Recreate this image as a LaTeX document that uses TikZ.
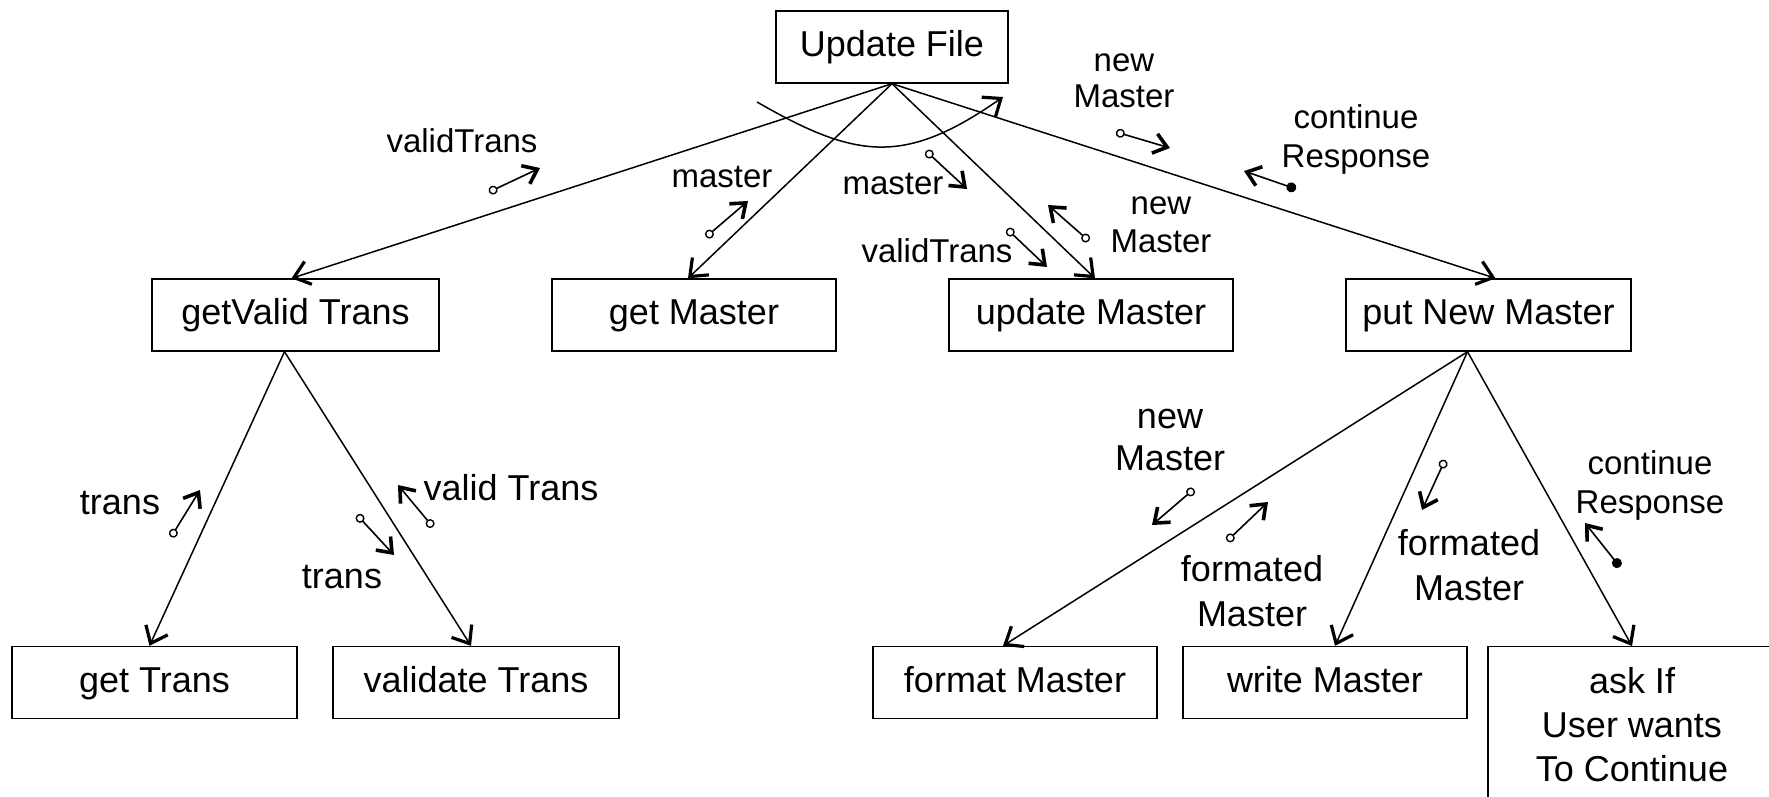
\documentclass[tikz,border=0pt]{standalone}
\usepackage{fontspec}
\setmainfont{Liberation Sans}
\usetikzlibrary{arrows.meta}
\tikzset{
  box/.style={draw, line width=1.4pt, minimum width=284pt, minimum height=72pt, inner sep=0pt, text height=26pt, text depth=7pt, font=\fontsize{36}{43}\selectfont},
  conn/.style={line width=1.5pt, -{Straight Barb[length=15pt,width=24pt,line width=3.2pt]}},
  couple/.style={line width=1.6pt, {Circle[open,length=9pt,width=9pt,line width=1.4pt]}-{Straight Barb[length=13pt,width=20pt,line width=3.6pt]}},
  flag/.style={line width=1.6pt, {Circle[length=10pt,width=10pt]}-{Straight Barb[length=13pt,width=20pt,line width=3.6pt]}},
  lblS/.style={font=\fontsize{33}{38}\selectfont, align=center, inner sep=0pt},
  lblL/.style={font=\fontsize{36}{44}\selectfont, align=center, inner sep=0pt},
}
\begin{document}
\begin{tikzpicture}[x=1pt,y=-1pt]
\useasboundingbox (0,0) rectangle (1769,796);
\clip (0,0) rectangle (1769,796);
\fill[white] (0,0) rectangle (1769,796);

% boxes
\node[box, minimum width=232pt] (uf) at (892,47) {Update File};
\node[box, minimum width=287pt] (gv) at (295.5,315) {getValid Trans};
\node[box] (gm) at (694,315) {get Master};
\node[box] (um) at (1091,315) {update Master};
\node[box, minimum width=285pt] (pnm) at (1488.5,315) {put New Master};
\node[box, minimum width=285pt] (gt) at (154.5,682.5) {get Trans};
\node[box, minimum width=286pt] (vt) at (476,682.5) {validate Trans};
\node[box] (fm) at (1015,682.5) {format Master};
\node[box] (wm) at (1325,682.5) {write Master};
\node[box, minimum width=288pt, minimum height=200pt, anchor=north] (ask) at (1632,646) {};
\node[lblL, anchor=north] (asktxt) at (1632,667) {ask If\\User wants\\To Continue};

% tree connectors
\draw[conn] (uf.south) -- ([xshift=-4pt]gv.north);
\draw[conn] (uf.south) -- ([xshift=-6pt]gm.north);
\draw[conn] (uf.south) -- ([xshift=4pt]um.north);
\draw[conn] (uf.south) -- ([xshift=7pt]pnm.north);
\draw[conn] ([xshift=-11pt]gv.south) -- ([xshift=-5pt]gt.north);
\draw[conn] ([xshift=-11pt]gv.south) -- ([xshift=-5pt]vt.north);
\draw[conn] ([xshift=-21pt]pnm.south) -- ([xshift=-12pt]fm.north);
\draw[conn] ([xshift=-21pt]pnm.south) -- ([xshift=10pt]wm.north);
\draw[conn] ([xshift=-21pt]pnm.south) -- (ask.north);

% loop
\coordinate (loopS) at (757,102);
\coordinate (loopE) at (1003,97);
\draw[conn] (loopS) .. controls (856,159) and (904,166) .. (loopE);

% couples
\coordinate (c1a) at (489,192);   \coordinate (c1b) at (540,168);
\coordinate (c2a) at (706,237);   \coordinate (c2b) at (748,201);
\coordinate (c3a) at (926,151);   \coordinate (c3b) at (967,189);
\coordinate (c4a) at (1007,229);  \coordinate (c4b) at (1047,267);
\coordinate (c5a) at (1089,241);  \coordinate (c5b) at (1048,205);
\coordinate (c6a) at (1116,132);  \coordinate (c6b) at (1170,148);
\coordinate (c7a) at (1296,189);  \coordinate (c7b) at (1244,171);
\coordinate (c8a) at (171,537);   \coordinate (c8b) at (200,490);
\coordinate (c9a) at (433,527);   \coordinate (c9b) at (398,485);
\coordinate (c10a) at (357,515);  \coordinate (c10b) at (394,555);
\coordinate (c11a) at (1194,489); \coordinate (c11b) at (1152,525);
\coordinate (c12a) at (1227,541); \coordinate (c12b) at (1268,502);
\coordinate (c13a) at (1445,460); \coordinate (c13b) at (1422,510);
\coordinate (c14a) at (1620,567); \coordinate (c14b) at (1585,523);
\draw[couple] (c1a) -- (c1b);
\draw[couple] (c2a) -- (c2b);
\draw[couple] (c3a) -- (c3b);
\draw[couple] (c4a) -- (c4b);
\draw[couple] (c5a) -- (c5b);
\draw[couple] (c6a) -- (c6b);
\draw[flag]   (c7a) -- (c7b);
\draw[couple] (c8a) -- (c8b);
\draw[couple] (c9a) -- (c9b);
\draw[couple] (c10a) -- (c10b);
\draw[couple] (c11a) -- (c11b);
\draw[couple] (c12a) -- (c12b);
\draw[couple] (c13a) -- (c13b);
\draw[flag]   (c14a) -- (c14b);

% labels
\node[lblS] (l1) at (462,141) {validTrans};
\node[lblS] (l2) at (722,177) {master};
\node[lblS] (l3) at (893,184) {master};
\node[lblS] (l4) at (937,251) {validTrans};
\node[lblS] (l5) at (1161,225) {new\\Master};
\node[lblS, font=\fontsize{33}{36}\selectfont] (l6) at (1124,81) {new\\Master};
\node[lblS, font=\fontsize{33}{39}\selectfont] (l7) at (1356,139) {continue\\Response};
\node[lblL] (l8) at (120,503) {trans};
\node[lblL] (l9) at (511,488) {valid Trans};
\node[lblL] (l10) at (342,577) {trans};
\node[lblL, font=\fontsize{36}{42}\selectfont] (l11) at (1170,440) {new\\Master};
\node[lblL, font=\fontsize{36}{45}\selectfont] (l12) at (1252,591) {formated\\Master};
\node[lblL, font=\fontsize{36}{45}\selectfont] (l13) at (1469,565) {formated\\Master};
\node[lblS, font=\fontsize{33}{39}\selectfont] (l14) at (1650,485) {continue\\Response};
\end{tikzpicture}
\end{document}
